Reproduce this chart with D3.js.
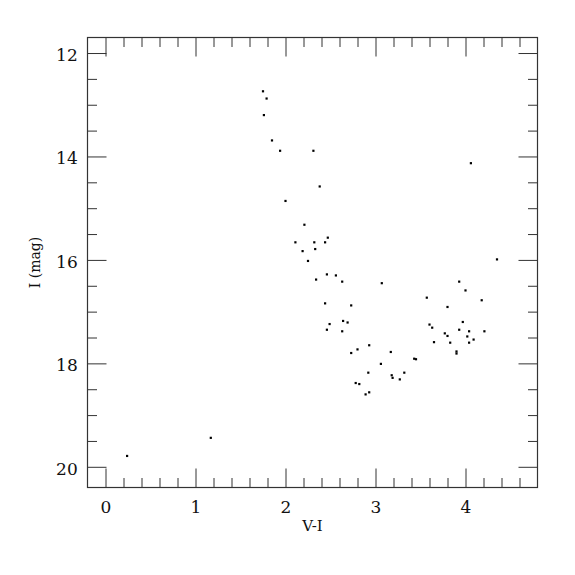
<!DOCTYPE html>
<html>
<head>
<meta charset="utf-8">
<script src="https://cdn.jsdelivr.net/npm/d3@7"></script>
<style>
  html, body { margin: 0; padding: 0; background: #fff; }
  svg { display: block; }
  svg text { font-family: "DejaVu Serif", serif; fill: #111; }
</style>
</head>
<body>
<div id="chart"></div>
<script>
// V-I colour index
const colorVI = [
  1.75, 1.79, 1.76, 1.85, 1.94, 2.31, 2.38, 2.00,
  2.21, 2.11, 2.32, 2.47, 2.44, 2.19, 2.33, 2.25, 2.46, 2.56, 2.34, 2.63,
  2.44, 2.73, 2.64, 2.69, 2.49, 2.46, 2.63, 3.07,
  3.60, 2.93, 2.80, 2.73, 3.17, 3.06, 3.43, 3.45, 2.92, 3.32, 3.18, 3.19,
  3.27, 2.78, 2.82, 2.93, 2.89,
  4.06, 4.35, 3.93, 4.00, 3.57, 4.18, 3.80, 3.97, 3.63, 3.93, 4.04, 4.21,
  3.77, 3.80, 4.02, 4.09, 3.65, 3.83, 4.04, 3.90, 3.90,
  0.24, 1.17
];
// I magnitude
const magI = [
  12.74, 12.88, 13.20, 13.69, 13.89, 13.89, 14.58, 14.86,
  15.32, 15.66, 15.66, 15.57, 15.66, 15.83, 15.79, 16.02, 16.28, 16.30, 16.38, 16.42,
  16.84, 16.88, 17.18, 17.21, 17.24, 17.35, 17.38, 16.45,
  17.25, 17.65, 17.73, 17.80, 17.78, 18.01, 17.91, 17.92, 18.18, 18.18, 18.23, 18.28,
  18.31, 18.38, 18.40, 18.56, 18.60,
  14.13, 15.99, 16.42, 16.59, 16.73, 16.78, 16.91, 17.20, 17.31, 17.35, 17.38, 17.38,
  17.42, 17.47, 17.48, 17.54, 17.59, 17.60, 17.60, 17.77, 17.81,
  19.79, 19.44
];
const xMajorTicks = [0, 1, 2, 3, 4];
const xMinorTicks = [0.2, 0.4, 0.6, 0.8, 1.2, 1.4, 1.6, 1.8, 2.2, 2.4, 2.6, 2.8,
                     3.2, 3.4, 3.6, 3.8, 4.2, 4.4, 4.6];
const yMajorTicks = [12, 14, 16, 18, 20];
const yMinorTicks = [12.5, 13, 13.5, 14.5, 15, 15.5, 16.5, 17, 17.5, 18.5, 19, 19.5];
const xTitle = "V-I";
const yTitle = "I (mag)";

const W = 575, H = 575;
const L = 87.5, R = 537.5, T = 37.5, B = 487.5;
const MAJ = 19, MIN = 9.5;
const FONT = "DejaVu Serif, serif";

const x = d3.scaleLinear().domain([-0.2, 4.8]).range([L, R]);
const y = d3.scaleLinear().domain([11.7, 20.4]).range([T, B]);

const svg = d3.select("#chart").append("svg")
  .attr("width", W).attr("height", H);

function styleAxis(g) {
  g.attr("font-family", FONT);
  g.select(".domain").remove();
  g.selectAll(".tick line").attr("stroke", "#333").attr("stroke-width", 1);
}

// bottom
svg.append("g").attr("transform", `translate(0,${B})`)
  .call(d3.axisBottom(x).tickValues(xMajorTicks).tickSize(-MAJ).tickPadding(13.5).tickFormat(d3.format("d")))
  .call(styleAxis)
  .call(g => g.selectAll("text").attr("font-size", 17).attr("fill", "#111"));
svg.append("g").attr("transform", `translate(0,${B})`)
  .call(d3.axisBottom(x).tickValues(xMinorTicks).tickSize(-MIN).tickFormat(""))
  .call(styleAxis);
// top
svg.append("g").attr("transform", `translate(0,${T})`)
  .call(d3.axisTop(x).tickValues(xMajorTicks).tickSize(-MAJ).tickFormat(""))
  .call(styleAxis);
svg.append("g").attr("transform", `translate(0,${T})`)
  .call(d3.axisTop(x).tickValues(xMinorTicks).tickSize(-MIN).tickFormat(""))
  .call(styleAxis);
// left
svg.append("g").attr("transform", `translate(${L},0)`)
  .call(d3.axisLeft(y).tickValues(yMajorTicks).tickSize(-MAJ).tickPadding(9.8).tickFormat(d3.format("d")))
  .call(styleAxis)
  .call(g => g.selectAll("text").attr("font-size", 17).attr("dy", "0.44em").attr("fill", "#111"));
svg.append("g").attr("transform", `translate(${L},0)`)
  .call(d3.axisLeft(y).tickValues(yMinorTicks).tickSize(-MIN).tickFormat(""))
  .call(styleAxis);
// right
svg.append("g").attr("transform", `translate(${R},0)`)
  .call(d3.axisRight(y).tickValues(yMajorTicks).tickSize(-MAJ).tickFormat(""))
  .call(styleAxis);
svg.append("g").attr("transform", `translate(${R},0)`)
  .call(d3.axisRight(y).tickValues(yMinorTicks).tickSize(-MIN).tickFormat(""))
  .call(styleAxis);

// frame
svg.append("rect")
  .attr("x", L).attr("y", T).attr("width", R - L).attr("height", B - T)
  .attr("fill", "none").attr("stroke", "#333").attr("stroke-width", 1.2);

// points
const pts = colorVI.map((v, i) => ({ v, m: magI[i] }));
svg.append("g").selectAll("rect").data(pts).join("rect")
  .attr("x", d => x(d.v) - 1.1)
  .attr("y", d => y(d.m) - 1.1)
  .attr("width", 2.2).attr("height", 2.2)
  .attr("fill", "#000");

// titles
svg.append("text")
  .attr("x", (L + R) / 2).attr("y", 531)
  .attr("text-anchor", "middle").attr("font-size", 15)
  .attr("font-family", FONT)
  .text(xTitle);
svg.append("text")
  .attr("transform", `translate(39.5,${(T + B) / 2}) rotate(-90)`)
  .attr("text-anchor", "middle").attr("font-size", 14)
  .attr("font-family", FONT)
  .text(yTitle);
</script>
</body>
</html>
